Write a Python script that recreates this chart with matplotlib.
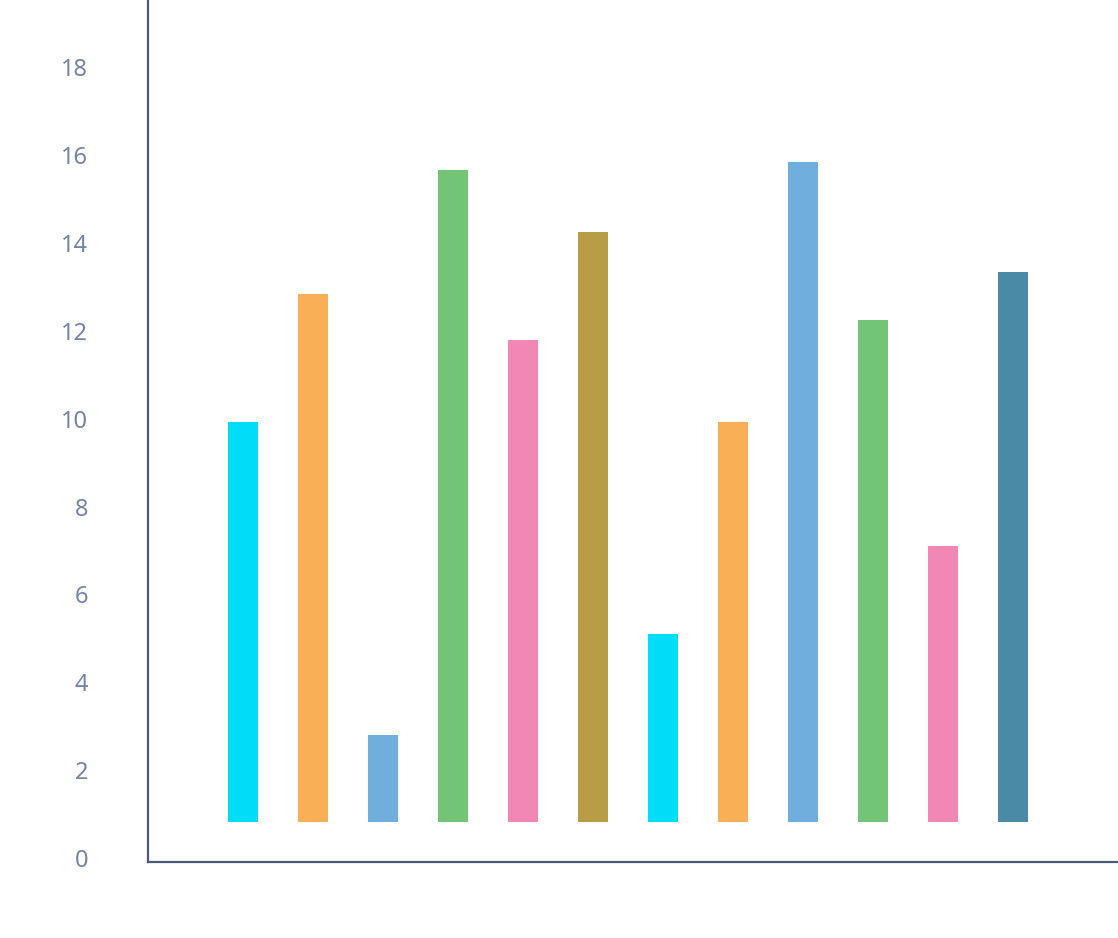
import numpy as np
import matplotlib.pyplot as plt
import matplotlib.transforms as mtransforms

# bar data (floating bars, all starting a bit above zero)
values = [10.02, 12.92, 2.9, 15.75, 11.87, 14.34, 5.2, 10.02, 15.93, 12.33, 7.2, 13.44]
bottoms = [0.9] * 12
colors = ["#00DDF8", "#F8AF55", "#6FAEDD", "#72C577", "#F088B3", "#B89C46",
          "#00DDF8", "#F8AF55", "#6FAEDD", "#72C577", "#F088B3", "#4A8AA6"]
yticks = [0, 2, 4, 6, 8, 10, 12, 14, 16, 18]

fig = plt.figure(figsize=(11.18, 9.38), dpi=100)
ax = fig.add_axes([148 / 1118, 76 / 938, 972 / 1118, 862 / 938])

x = np.arange(len(values))
heights = [v - b for v, b in zip(values, bottoms)]
ax.bar(x, heights, bottom=bottoms, width=30 / 70, color=colors)

ax.set_xlim(-1.357, 12.53)
ax.set_ylim(0, 19.62)
ax.set_yticks(yticks)
ax.set_xticks([])
ax.tick_params(axis="y", length=0, pad=43, labelsize=17, labelcolor="#7483A8")
shift = mtransforms.ScaledTranslation(0, 4 / 100, fig.dpi_scale_trans)
for lab in ax.get_yticklabels():
    lab.set_fontfamily("Noto Sans")
    lab.set_transform(lab.get_transform() + shift)

for s in ["top", "right"]:
    ax.spines[s].set_visible(False)
for s in ["left", "bottom"]:
    ax.spines[s].set_color("#4A5A7A")
    ax.spines[s].set_linewidth(1.6)

fig.savefig("out.png", dpi=100)
